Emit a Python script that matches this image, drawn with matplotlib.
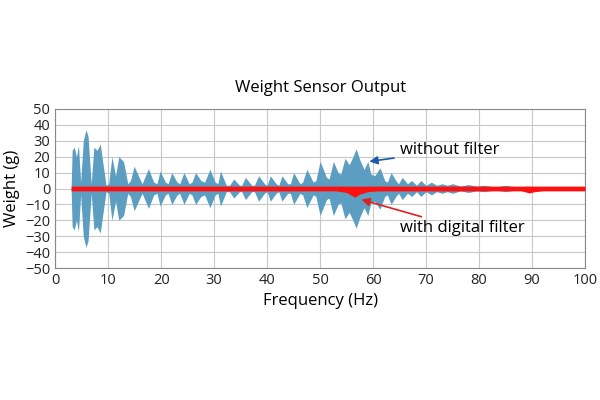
import numpy as np
import matplotlib.pyplot as plt

plt.rcParams['font.family'] = 'Open Sans'

# envelope of the unfiltered signal: (frequency, amplitude) alternating lobes / troughs
freq = [3.0, 3.2, 3.6, 4.0, 4.4, 4.8, 5.3, 5.8, 6.2, 6.8, 7.3, 7.9, 8.5, 9.0, 9.6,
        10.1, 10.7, 11.4, 12.0, 12.9, 13.7, 14.2, 14.9, 15.7, 16.4, 17.6, 18.6,
        19.2, 19.8, 20.8, 21.3, 22.0, 23.0, 23.5, 24.3, 25.3, 25.8, 26.5, 27.5,
        28.2, 29.2, 30.2, 30.7, 31.2, 32.3, 32.9, 33.7, 34.8, 35.2, 35.9, 37.1,
        37.6, 38.4, 39.5, 40.0, 40.6, 41.7, 42.2, 42.8, 43.9, 44.4, 45.0, 46.2,
        46.7, 47.5, 48.7, 49.2, 50.0, 51.2, 51.7, 52.5, 53.4, 53.9, 54.7, 55.5,
        56.2, 56.8, 57.5, 58.3, 59.0, 59.6, 60.3, 61.3, 62.2, 62.7, 63.4, 64.3,
        64.8, 65.5, 66.5, 67.3, 68.2, 69.0, 70.0, 71.0, 72.0, 73.0, 74.0, 75.0,
        76.5, 78.0, 79.5, 81.0, 83.0, 85.0, 87.0, 89.0, 91.0, 94.0, 97.0, 100.0]
amp = [0, 24, 26, 20, 27, 4, 30, 37, 33, 3, 26, 24, 28, 16, 2,
       3, 20, 8, 20, 17, 3, 5, 14, 8, 3, 12.5, 4,
       3, 11, 4, 3, 10, 4, 3, 10, 3, 4, 10, 5,
       4, 12, 4, 3, 11, 2, 2, 6, 2, 2, 7, 2,
       2, 8, 3, 2, 8, 3, 2, 8, 3, 3, 10, 3,
       4, 12, 4, 5, 17, 7, 6, 17, 10, 9, 19, 15,
       20, 25, 18, 12, 17, 9, 8, 13, 5, 4, 10, 5,
       3, 7, 3, 5, 2, 5, 2, 4, 2, 3, 2, 3,
       1.5, 2.5, 1.5, 2, 1, 2, 1, 1.5, 1, 1, 1, 1]
low_scale = [1.0] * len(freq)

# filtered output band: (frequency, lower edge)
red_freq = [3, 53, 55, 56.5, 57.5, 59, 61, 88, 89.5, 90.5, 92, 100]
red_low = [-1.5, -1.5, -2.5, -5.5, -3.5, -2, -1.5, -1.5, -2.8, -2, -1.5, -1.5]
red_high = [1.5] * len(red_freq)

fig = plt.figure(figsize=(6, 4), dpi=100)
ax = fig.add_axes([0.092, 0.33, 0.883, 0.3975])

ax.fill_between(freq, [-a for a in amp], amp, color='#5b9ec2', lw=0, zorder=2)
ax.fill_between(red_freq, red_low, red_high, color='#ff1010', lw=0, zorder=3)

ax.set_xlim(0, 100)
ax.set_ylim(-50, 50)
ax.set_xticks(range(0, 101, 10))
ax.set_yticks(range(-50, 51, 10))
ax.grid(True, color='#c8c8c8', lw=0.8)
ax.set_axisbelow(True)
for s in ax.spines.values():
    s.set_color('#888888')
ax.tick_params(length=0, labelsize=10.5, colors='#222222')

ax.set_title('Weight Sensor Output', fontsize=12, pad=12)
ax.set_xlabel('Frequency (Hz)', fontsize=12)
ax.set_ylabel('Weight (g)', fontsize=12)

ax.annotate('without filter', xy=(59.3, 17), xytext=(65, 24), fontsize=12,
            va='center', arrowprops=dict(arrowstyle='-|>', color='#1a5aa8', lw=1.2,
                                         shrinkA=2, shrinkB=0))
ax.annotate('with digital filter', xy=(57.8, -7), xytext=(65, -25), fontsize=12,
            va='center', arrowprops=dict(arrowstyle='-|>', color='#e02020', lw=1.2,
                                         shrinkA=2, shrinkB=0))

fig.savefig('out.png')
